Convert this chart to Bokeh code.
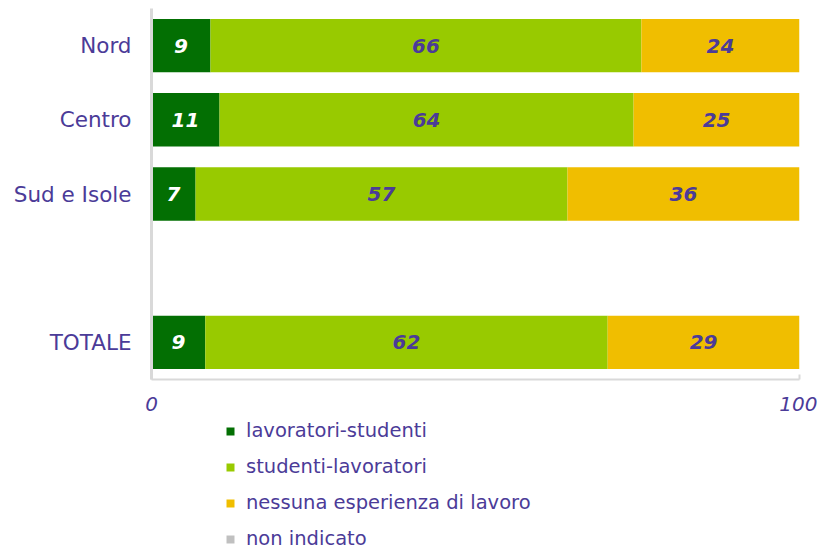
from bokeh.plotting import figure
from bokeh.layouts import column
from bokeh.models import Range1d, FixedTicker, ColumnDataSource, Legend, LegendItem
from bokeh.core.properties import value
from bokeh.embed import file_html
from bokeh.resources import INLINE

# ---- data ----
categories = ["Nord", "Centro", "Sud e Isole", "", "TOTALE"]
positions = [4, 3, 2, 1, 0]
lavoratori_studenti = [9.1, 10.5, 6.8, None, 8.3]
studenti_lavoratori = [66.5, 63.9, 57.4, None, 62.1]
nessuna_esperienza = [24.4, 25.6, 35.8, None, 29.6]
non_indicato = [0.0, 0.0, 0.0, None, 0.0]
labels_ls = ["9", "11", "7", "", "9"]
labels_sl = ["66", "64", "57", "", "62"]
labels_ne = ["24", "25", "36", "", "29"]
series_names = ["lavoratori-studenti", "studenti-lavoratori",
                "nessuna esperienza di lavoro", "non indicato"]
x_ticks = [0, 100]

PURPLE = "#4b3b98"
colors = ["#036f03", "#98ca00", "#f0be00", "#c0c0c0"]

FONT = "DejaVu Sans"

p = figure(frame_width=648, frame_height=371, output_backend="svg", toolbar_location=None,
           x_range=Range1d(0, 100), y_range=Range1d(-0.5, 4.5),
           min_border_left=151, min_border_right=18, min_border_top=8,
           min_border_bottom=40)
p.outline_line_color = None
p.grid.grid_line_color = None
p.background_fill_color = "white"

# build stacked segments
rows = [i for i, c in enumerate(categories) if lavoratori_studenti[i] is not None]
series = [lavoratori_studenti, studenti_lavoratori, nessuna_esperienza, non_indicato]
label_sets = [labels_ls, labels_sl, labels_ne, None]
sources = []
for s_idx, ser in enumerate(series):
    ys, lefts, rights, centers, texts = [], [], [], [], []
    for i in rows:
        left = sum(series[k][i] for k in range(s_idx))
        ys.append(positions[i])
        lefts.append(left)
        rights.append(left + ser[i])
        centers.append(left + ser[i] / 2)
        texts.append(label_sets[s_idx][i] if label_sets[s_idx] else "")
    src = ColumnDataSource(dict(y=ys, left=lefts, right=rights, xc=centers, t=texts))
    sources.append(src)
    p.hbar(y="y", left="left", right="right", height=0.72, source=src,
           fill_color=colors[s_idx], line_color=None)
    if label_sets[s_idx]:
        p.text(x="xc", y="y", text="t", source=src,
               text_align="center", text_baseline="middle",
               text_font=value(FONT), text_font_size="20px",
               text_font_style="bold italic",
               text_color="white" if s_idx == 0 else PURPLE)

# y axis
p.yaxis.ticker = FixedTicker(ticks=positions)
p.yaxis.major_label_overrides = {pos: cat for pos, cat in zip(positions, categories)}
p.yaxis.major_tick_line_color = None
p.yaxis.major_tick_out = 0
p.yaxis.major_tick_in = 0
p.yaxis.minor_tick_line_color = None
p.yaxis.axis_line_color = "#d9d9d9"
p.yaxis.axis_line_width = 3
p.yaxis.major_label_standoff = 20
p.yaxis.major_label_text_font = FONT
p.yaxis.major_label_text_font_size = "21.5px"
p.yaxis.major_label_text_color = PURPLE

# x axis
p.xaxis.ticker = FixedTicker(ticks=x_ticks)
p.xaxis.axis_line_color = "#d9d9d9"
p.xaxis.axis_line_width = 2
p.xaxis.major_tick_line_color = "#d9d9d9"
p.xaxis.major_tick_line_width = 2
p.xaxis.major_tick_in = 5
p.xaxis.major_tick_out = 0
p.xaxis.minor_tick_line_color = None
p.xaxis.major_label_standoff = 17
p.xaxis.major_label_text_font = FONT
p.xaxis.major_label_text_font_size = "20px"
p.xaxis.major_label_text_font_style = "italic"
p.xaxis.major_label_text_color = PURPLE

# ---- legend in its own strip below the chart (frame aligned with the chart's) ----
pl = figure(frame_width=648, height=132, output_backend="svg", toolbar_location=None,
            x_range=Range1d(0, 100), y_range=Range1d(1000, 1001),
            min_border_left=151, min_border_right=18, min_border_top=0, min_border_bottom=0)
pl.axis.visible = False
pl.grid.grid_line_color = None
pl.outline_line_color = None
pl.background_fill_alpha = 0
leg_renderers = []
for c, src in zip(colors, sources):
    leg_renderers.append(pl.hbar(y="y", left="left", right="right", height=0.72,
                                 source=src, fill_color=c, line_color=None))
legend = Legend(items=[LegendItem(label=n, renderers=[r], index=0)
                       for n, r in zip(series_names, leg_renderers)],
                location=(74, 1), orientation="vertical",
                glyph_width=10, glyph_height=10, label_standoff=11,
                label_text_font=FONT, label_text_font_size="19.5px",
                label_text_color=PURPLE, label_height=20, spacing=13,
                padding=0, margin=0, border_line_alpha=0,
                background_fill_alpha=0)
pl.add_layout(legend, "center")

layout = column(p, pl, spacing=0)
open("out.html", "w").write(file_html(layout, INLINE))
